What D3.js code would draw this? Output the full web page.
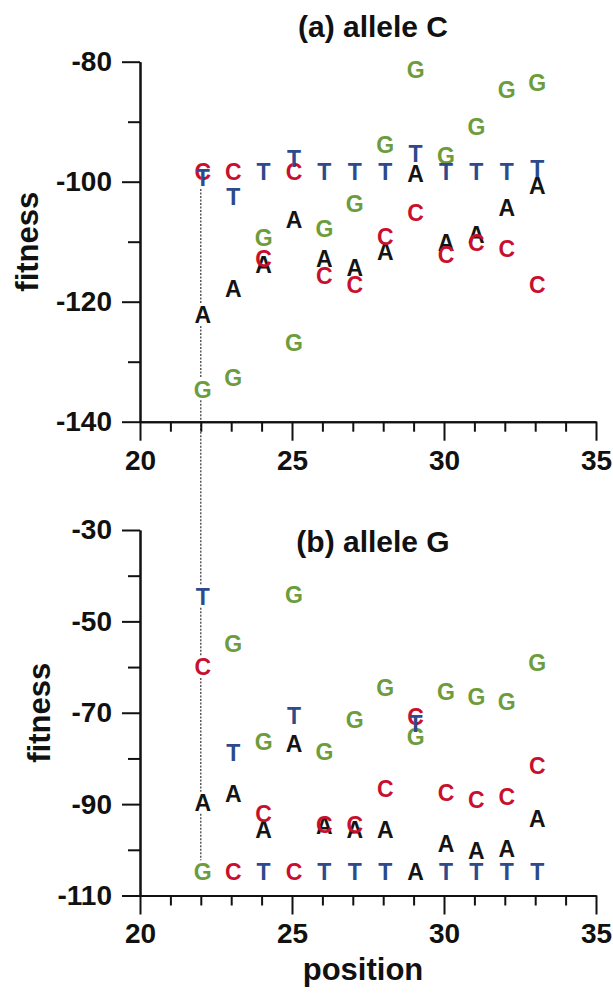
<!DOCTYPE html>
<html>
<head>
<meta charset="utf-8">
<script src="https://cdn.jsdelivr.net/npm/d3@7"></script>
<style>
  body { margin: 0; background: #fff; }
  svg text { font-family: "Liberation Sans", Arial, sans-serif; font-weight: bold; }
</style>
</head>
<body>
<div id="chart"></div>
<script>
// positions along the sequence
var positions = [22, 23, 24, 25, 26, 27, 28, 29, 30, 31, 32, 33];

// (a) allele C
var aA = [-122.2, -117.9, -113.9, -106.4, -112.8, -114.4, -111.7, -98.6, -110.2, -108.8, -104.4, -100.6];
var aC = [-98.3, -98.3, -112.8, -98.3, -115.6, -117.1, -109.1, -105.2, -112.2, -110.2, -111.1, -117.2];
var aG = [-134.6, -132.7, -109.3, -126.8, -107.9, -103.6, -93.9, -81.4, -95.6, -90.8, -84.7, -83.5];
var aT = [-99.4, -102.5, -98.3, -96.1, -98.3, -98.3, -98.3, -95.3, -98.3, -98.3, -98.3, -97.8];

// (b) allele G
var bA = [-89.7, -87.7, -95.6, -76.8, -94.7, -95.5, -95.6, -104.9, -98.6, -100.3, -99.8, -93.2];
var bC = [-60.0, -104.7, -92.1, -104.7, -94.5, -94.5, -86.7, -70.8, -87.4, -89.0, -88.4, -81.6];
var bG = [-104.7, -54.8, -76.3, -44.2, -78.6, -71.5, -64.5, -75.2, -65.3, -66.6, -67.5, -59.1];
var bT = [-44.6, -78.8, -104.7, -70.6, -104.7, -104.7, -104.7, -72.3, -104.7, -104.7, -104.7, -104.7];

var xTicks = [20, 25, 30, 35];
var xMinor = [21, 22, 23, 24, 26, 27, 28, 29, 31, 32, 33, 34];
var aTicks = [-140, -120, -100, -80];
var aMinor = [-130, -110, -90];
var bTicks = [-110, -90, -70, -50, -30];
var bMinor = [-100, -80, -60, -40];

var colors = {A: "#141414", C: "#c8102e", G: "#6c9c3c", T: "#2c4a8c"};
var order = ["G", "A", "C", "T"];

var W = 613, H = 998;
var svg = d3.select("#chart").append("svg")
    .attr("width", W)
    .attr("height", H);

var x = d3.scaleLinear().domain([20, 35]).range([140, 596]);

var panels = [
  {title: "(a) allele C", series: {A: aA, C: aC, G: aG, T: aT}, ticks: aTicks, minor: aMinor,
   y: d3.scaleLinear().domain([-140, -80]).range([421.7, 61.7]), titleY: 37, labelX: 38},
  {title: "(b) allele G", series: {A: bA, C: bC, G: bG, T: bT}, ticks: bTicks, minor: bMinor,
   y: d3.scaleLinear().domain([-110, -30]).range([895.5, 530]), titleY: 552, labelX: 50}
];

// plain hyphen minus like the original figure
var fmt = function(d) { return String(d); };

function styleAxis(g) {
  g.selectAll("path, line").attr("stroke", "#111").attr("stroke-width", 2);
  g.selectAll("text").attr("fill", "#111");
}

// dotted guide at position 22, broken around each letter
var guideYs = [];
panels.forEach(function(p) {
  order.forEach(function(k) {
    guideYs.push(p.y(p.series[k][0]));
  });
});
guideYs.sort(d3.ascending);
var segs = [];
for (var i = 1; i < guideYs.length; i++) {
  var y0 = guideYs[i - 1] + 11, y1 = guideYs[i] - 11;
  if (y1 > y0) segs.push([y0, y1]);
}
svg.append("g").selectAll("line")
  .data(segs)
  .enter().append("line")
    .attr("x1", x(22)).attr("x2", x(22))
    .attr("y1", function(d) { return d[0]; })
    .attr("y2", function(d) { return d[1]; })
    .attr("stroke", "#333")
    .attr("stroke-width", 1.2)
    .attr("stroke-dasharray", "2,1.5");

panels.forEach(function(p) {
  var yb = p.y.range()[0];

  // x axis
  svg.append("g")
    .attr("transform", "translate(0," + yb + ")")
    .call(d3.axisBottom(x).tickValues(xMinor).tickSize(10).tickFormat("").tickSizeOuter(0))
    .call(styleAxis);
  svg.append("g")
    .attr("transform", "translate(0," + yb + ")")
    .call(d3.axisBottom(x).tickValues(xTicks).tickSize(19).tickPadding(9).tickSizeOuter(0).tickFormat(fmt))
    .call(styleAxis)
    .selectAll("text").attr("font-size", 28);

  // y axis
  svg.append("g")
    .attr("transform", "translate(" + x(20) + ",0)")
    .call(d3.axisLeft(p.y).tickValues(p.minor).tickSize(12).tickFormat("").tickSizeOuter(0))
    .call(styleAxis);
  svg.append("g")
    .attr("transform", "translate(" + x(20) + ",0)")
    .call(d3.axisLeft(p.y).tickValues(p.ticks).tickSize(18).tickPadding(10).tickSizeOuter(0).tickFormat(fmt))
    .call(styleAxis)
    .selectAll("text").attr("font-size", 28);

  // title
  svg.append("text")
    .attr("x", 373).attr("y", p.titleY)
    .attr("text-anchor", "middle")
    .attr("font-size", 30)
    .attr("fill", "#111")
    .text(p.title);

  // y label
  var mid = (p.y.range()[0] + p.y.range()[1]) / 2;
  svg.append("text")
    .attr("transform", "translate(" + p.labelX + "," + mid + ") rotate(-90)")
    .attr("text-anchor", "middle")
    .attr("font-size", 31)
    .attr("fill", "#111")
    .text("fitness");

  // letter marks
  order.forEach(function(k) {
    svg.append("g").selectAll("text")
      .data(p.series[k])
      .enter().append("text")
        .attr("x", function(d, i) { return x(positions[i]) + 2; })
        .attr("y", function(d) { return p.y(d); })
        .attr("dy", "0.36em")
        .attr("text-anchor", "middle")
        .attr("font-size", 23)
        .attr("fill", colors[k])
        .text(k);
  });
});

svg.append("text")
  .attr("x", 363).attr("y", 980)
  .attr("text-anchor", "middle")
  .attr("font-size", 31)
  .attr("fill", "#111")
  .text("position");
</script>
</body>
</html>
